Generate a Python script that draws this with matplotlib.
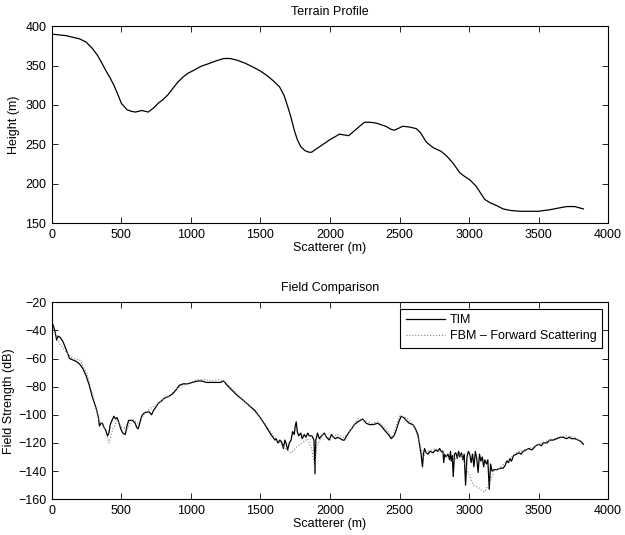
import numpy as np
import matplotlib.pyplot as plt

plt.rcParams['font.family'] = ['Liberation Sans', 'DejaVu Sans']
plt.rcParams['font.size'] = 9

# terrain profile
terrain_x = [0, 50, 103, 150, 198, 245, 290, 328, 360, 387, 420, 446, 475, 500, 540, 570, 599, 625, 646, 670, 693,
             730, 764, 800, 835, 870, 906, 940, 976, 1020, 1071, 1120, 1165, 1200, 1236, 1280, 1330, 1390, 1448,
             1500, 1542, 1590, 1637, 1670, 1696, 1720, 1743, 1765, 1790, 1820, 1849, 1868, 1900, 1950, 2000, 2040,
             2067, 2100, 2135, 2180, 2220, 2248, 2290, 2332, 2400, 2440, 2464, 2500, 2524, 2570, 2620, 2650, 2692,
             2740, 2800, 2840, 2885, 2933, 2970, 3005, 3050, 3113, 3150, 3200, 3245, 3300, 3365, 3430, 3497, 3540,
             3582, 3640, 3702, 3760, 3822]
terrain_y = [390, 389, 388, 386, 384, 380, 372, 363, 353, 344, 334, 325, 313, 302, 294, 292, 291, 292, 293, 292, 291,
             296, 302, 307, 313, 321, 329, 335, 340, 344, 349, 352, 355, 357, 359, 359, 357, 353, 348, 343, 338, 331,
             323, 312, 298, 284, 268, 256, 247, 242, 240, 240, 244, 250, 256, 260, 263, 262, 261, 268, 274, 278, 278,
             277, 273, 269, 268, 271, 273, 272, 270, 265, 253, 246, 241, 235, 226, 214, 209, 205, 197, 180, 176, 172,
             168, 166, 165, 165, 165, 166, 167, 169, 171, 171, 168]

# TIM field strength
tim_x = [0, 15, 25, 35, 45, 60, 80, 104, 127, 150, 175, 200, 222, 245, 269, 290, 304, 320, 335, 342, 352, 363, 375,
         387, 400, 410, 420, 432, 446, 458, 469, 480, 495, 510, 528, 540, 552, 564, 580, 599, 610, 620, 632, 646, 660,
         682, 700, 717, 730, 745, 764, 790, 811, 840, 870, 895, 917, 945, 976, 1010, 1047, 1080, 1110, 1142, 1180,
         1210, 1236, 1260, 1290, 1330, 1380, 1425, 1460, 1490, 1519, 1550, 1575, 1590, 1605, 1613, 1625, 1640, 1649,
         1658, 1665, 1675, 1684, 1695, 1708, 1720, 1731, 1743, 1750, 1757, 1765, 1775, 1790, 1800, 1815, 1827, 1840,
         1851, 1870, 1885, 1892, 1898, 1910, 1923, 1940, 1959, 1975, 1995, 2010, 2025, 2040, 2055, 2075, 2090, 2103,
         2120, 2139, 2155, 2175, 2200, 2235, 2260, 2284, 2310, 2344, 2370, 2392, 2420, 2440, 2460, 2476, 2495, 2512,
         2530, 2548, 2570, 2596, 2615, 2632, 2645, 2655, 2665, 2672, 2680, 2692, 2704, 2720, 2740, 2760, 2775, 2788,
         2800, 2812, 2818, 2824, 2835, 2848, 2860, 2866, 2872, 2880, 2886, 2895, 2905, 2915, 2925, 2933, 2945, 2955,
         2965, 2975, 2985, 2995, 3005, 3015, 3025, 3035, 3045, 3055, 3065, 3075, 3085, 3095, 3105, 3113, 3125, 3135,
         3145, 3155, 3165, 3180, 3200, 3225, 3245, 3260, 3270, 3285, 3293, 3305, 3320, 3341, 3360, 3375, 3389, 3410,
         3430, 3450, 3462, 3480, 3500, 3520, 3534, 3560, 3580, 3606, 3630, 3655, 3678, 3700, 3720, 3738, 3760, 3786,
         3805, 3822]
tim_y = [-34, -38, -42, -47, -44, -45, -48, -54, -60, -61, -62, -64, -67, -72, -79, -87, -91, -96, -102, -108, -106,
         -106, -109, -111, -115, -113, -107, -104, -101, -103, -102, -105, -110, -113, -114, -108, -104, -104, -104,
         -106, -109, -110, -106, -101, -99, -98, -98, -100, -97, -95, -92, -90, -88, -87, -85, -82, -79, -78, -78, -77,
         -76, -76, -77, -77, -77, -77, -76, -79, -82, -86, -90, -94, -97, -101, -105, -110, -114, -116, -118, -117,
         -120, -118, -119, -121, -124, -118, -120, -125, -120, -118, -112, -114, -108, -105, -112, -115, -113, -117,
         -114, -116, -113, -115, -115, -118, -142, -118, -113, -117, -115, -113, -116, -118, -114, -116, -117, -116,
         -117, -118, -118, -115, -112, -110, -107, -105, -103, -106, -107, -107, -106, -108, -111, -114, -117, -115,
         -111, -105, -101, -102, -104, -106, -107, -110, -114, -122, -128, -137, -128, -124, -127, -128, -126, -127,
         -125, -126, -124, -126, -126, -134, -128, -130, -128, -132, -126, -133, -129, -144, -128, -127, -131, -126,
         -130, -127, -132, -128, -150, -130, -126, -128, -134, -128, -137, -126, -131, -141, -128, -133, -130, -137,
         -132, -135, -132, -153, -135, -140, -139, -139, -138, -138, -136, -133, -134, -131, -133, -129, -128, -127,
         -128, -126, -125, -124, -125, -124, -122, -121, -122, -120, -120, -118, -118, -117, -116, -116, -117, -116,
         -117, -117, -118, -119, -121]

# FBM - forward scattering
fbm_x = [0, 30, 60, 100, 150, 200, 250, 300, 340, 380, 410, 440, 470, 500, 540, 580, 620, 660, 700, 750, 800, 850,
         900, 950, 1000, 1050, 1100, 1150, 1200, 1250, 1300, 1400, 1500, 1560, 1600, 1640, 1680, 1720, 1760, 1800,
         1840, 1870, 1890, 1905, 1950, 2000, 2050, 2100, 2150, 2200, 2250, 2300, 2350, 2400, 2450, 2500, 2550, 2600,
         2640, 2670, 2700, 2760, 2820, 2880, 2940, 2990, 3030, 3070, 3110, 3150, 3180, 3220, 3280, 3340, 3400, 3460,
         3520, 3580, 3640, 3700, 3760, 3822]
fbm_y = [-36, -44, -50, -55, -60, -61, -70, -88, -104, -110, -120, -110, -104, -109, -110, -103, -106, -100, -96,
         -93, -89, -86, -81, -79, -77, -75, -75, -76, -75, -77, -82, -92, -102, -110, -116, -120, -124, -127, -123,
         -120, -117, -125, -138, -122, -114, -117, -114, -116, -111, -103, -104, -106, -105, -110, -116, -101, -102,
         -107, -118, -130, -126, -124, -128, -133, -128, -140, -150, -152, -155, -148, -140, -138, -132, -127, -125,
         -123, -120, -118, -116, -115, -116, -121]

fig = plt.figure(figsize=(6.25, 5.35), dpi=100)
ax1 = fig.add_axes([0.083, 0.583, 0.89, 0.368])
ax2 = fig.add_axes([0.083, 0.067, 0.89, 0.368])

ax1.plot(terrain_x, terrain_y, color='k', lw=0.9)
ax1.set_xlim(0, 4000)
ax1.set_ylim(150, 400)
ax1.set_title('Terrain Profile', fontsize=9, pad=8)
ax1.set_xlabel('Scatterer (m)', labelpad=1)
ax1.set_ylabel('Height (m)', labelpad=4)

ax2.plot(tim_x, tim_y, color='k', lw=0.9, label='TIM')
ax2.plot(fbm_x, fbm_y, color='0.5', lw=0.8, ls=':', label='FBM \u2013 Forward Scattering')
ax2.set_xlim(0, 4000)
ax2.set_ylim(-160, -20)
ax2.set_yticks(np.arange(-160, -19, 20))
ax2.set_title('Field Comparison', fontsize=9, pad=8)
ax2.set_xlabel('Scatterer (m)', labelpad=1)
ax2.set_ylabel('Field Strength (dB)', labelpad=2)
leg = ax2.legend(loc='upper right', fancybox=False, edgecolor='k', framealpha=1, borderaxespad=0.5,
                 handlelength=3.1, fontsize=9, borderpad=0.45, labelspacing=0.3, handletextpad=0.4)
leg.get_frame().set_linewidth(0.8)

for ax in (ax1, ax2):
    ax.set_xticks(np.arange(0, 4001, 500))
    ax.tick_params(direction='in', top=True, right=True, length=4, width=0.6, labelsize=9, pad=4)
    for s in ax.spines.values():
        s.set_linewidth(0.8)

fig.savefig('out.png', dpi=100)
